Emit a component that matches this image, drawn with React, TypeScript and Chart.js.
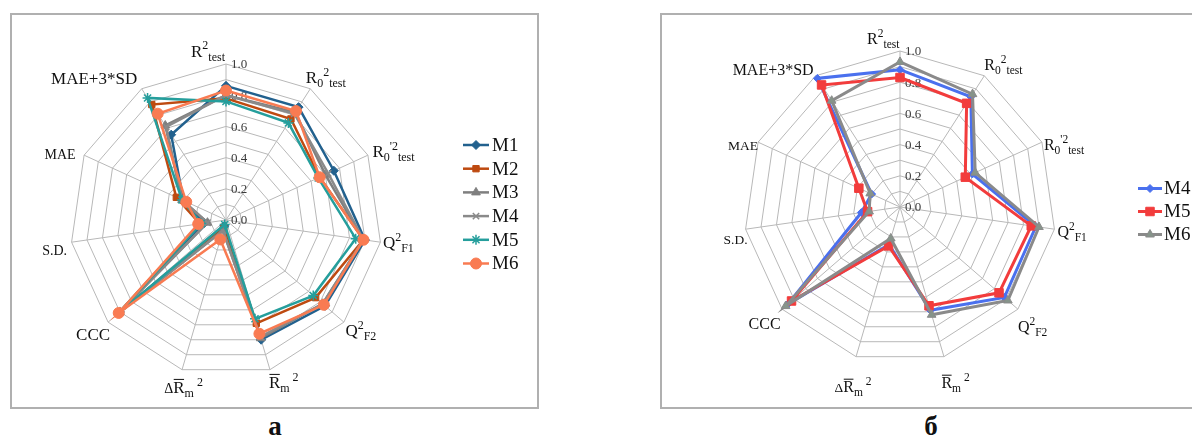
import React, { useEffect, useRef } from 'react';
import { Chart, registerables } from 'chart.js';

Chart.register(...registerables);

// ---------- data ----------
const categories = ["R²test", "R0²test", "R0'²test", "Q²F1", "Q²F2", "R̄m²", "ΔR̄m²", "CCC", "S.D.", "MAE", "MAE+3*SD"];

// rich text parts for the axis labels
const labelParts: [string, string][][] = [
  [["R", "n"], ["2", "sup"], ["test", "sub"]],
  [["R", "n"], ["0", "sub"], ["2", "sup"], ["test", "sub"]],
  [["R", "n"], ["0", "sub"], ["'2", "sup"], ["test", "sub"]],
  [["Q", "n"], ["2", "sup"], ["F1", "sub"]],
  [["Q", "n"], ["2", "sup"], ["F2", "sub"]],
  [["R", "bar"], ["m", "sub"], [" 2", "sup"]],
  [["Δ", "small"], ["R", "bar"], ["m", "sub"], [" 2", "sup"]],
  [["CCC", "n"]],
  [["S.D.", "small"]],
  [["MAE", "small"]],
  [["MAE+3*SD", "n"]],
];

const tickValues = [0, 0.2, 0.4, 0.6, 0.8, 1.0];
const tickLabels = ["0.0", "0.2", "0.4", "0.6", "0.8", "1.0"];

// chart а
const seriesNamesA = ["M1", "M2", "M3", "M4", "M5", "M6"];
const a_M1 = [0.86, 0.86, 0.76, 0.90, 0.84, 0.80, 0.04, 0.90, 0.14, 0.30, 0.65];
const a_M2 = [0.78, 0.77, 0.66, 0.89, 0.76, 0.69, 0.05, 0.91, 0.17, 0.35, 0.88];
const a_M3 = [0.80, 0.82, 0.70, 0.89, 0.82, 0.79, 0.07, 0.90, 0.12, 0.31, 0.72];
const a_M4 = [0.80, 0.81, 0.72, 0.89, 0.82, 0.78, 0.07, 0.90, 0.12, 0.31, 0.71];
const a_M5 = [0.76, 0.74, 0.65, 0.84, 0.74, 0.66, 0.03, 0.91, 0.16, 0.31, 0.93];
const a_M6 = [0.83, 0.83, 0.66, 0.89, 0.83, 0.76, 0.13, 0.91, 0.18, 0.28, 0.81];

// chart б
const seriesNamesB = ["M4", "M5", "M6"];
const b_M4 = [0.88, 0.84, 0.51, 0.88, 0.885, 0.69, 0.25, 0.95, 0.25, 0.20, 0.98];
const b_M5 = [0.83, 0.79, 0.46, 0.85, 0.84, 0.66, 0.26, 0.92, 0.21, 0.29, 0.93];
const b_M6 = [0.93, 0.86, 0.53, 0.90, 0.915, 0.72, 0.21, 0.97, 0.20, 0.21, 0.81];

// ---------- styles ----------
const SERIF = '"Liberation Serif", "Times New Roman", serif';

type Style = { color: string; point: string; radius: number; pbg: string; pbw: number; width: number };

const stylesA: Style[] = [
  { color: '#22618E', point: 'rectRot', radius: 4.5, pbg: '#22618E', pbw: 1, width: 2.5 },
  { color: '#BE4A10', point: 'rect', radius: 4.5, pbg: '#BE4A10', pbw: 1, width: 2.5 },
  { color: '#7F7F7F', point: 'triangle', radius: 5, pbg: '#7F7F7F', pbw: 1, width: 2.5 },
  { color: '#8A8A8A', point: 'crossRot', radius: 4.5, pbg: '#8A8A8A', pbw: 1.5, width: 2.5 },
  { color: '#259E9C', point: 'star', radius: 5, pbg: '#259E9C', pbw: 1.5, width: 2.5 },
  { color: '#F97B52', point: 'circle', radius: 5.5, pbg: '#F97B52', pbw: 1, width: 2.5 },
];

const stylesB: Style[] = [
  { color: '#4A70EE', point: 'rectRot', radius: 4, pbg: '#4A70EE', pbw: 1, width: 3 },
  { color: '#F23C3C', point: 'rect', radius: 6, pbg: '#F23C3C', pbw: 1, width: 3 },
  { color: '#8A8A8A', point: 'triangle', radius: 5, pbg: '#86948A', pbw: 1, width: 3 },
];

type Cfg = {
  names: string[];
  series: number[][];
  styles: Style[];
  padding: { left: number; top: number; right: number; bottom: number };
  offsets: [number, number, string][];
  fontMain: number;
  fontSub: number;
  fontSmall: number;
  tickFont: number;
  legend: { x0: number; x1: number; xt: number; y0: number; dy: number; font: number };
};

const offsetsA: [number, number, string][] = [
  [-1, -7.5, 'right'],
  [-4.5, -5.5, 'left'],
  [4.5, 1.5, 'left'],
  [2.5, 6, 'left'],
  [1.5, 14, 'left'],
  [-1, 18, 'left'],
  [1.5, 23, 'center'],
  [2, 17.5, 'right'],
  [-4.5, 12.5, 'right'],
  [-8.5, 3.5, 'right'],
  [-4.5, -5, 'right'],
];

const offsetsB: [number, number, string][] = [
  [-0.5, -7, 'right'],
  [0, -6, 'left'],
  [2, 8, 'left'],
  [3, 7.5, 'left'],
  [0, 23, 'left'],
  [-2.5, 31, 'left'],
  [-3, 35, 'center'],
  [-1.5, 19.5, 'right'],
  [2, 15, 'right'],
  [0, 8, 'right'],
  [-2, -1, 'right'],
];

function fontFor(kind: string, cfg: Cfg) {
  if (kind === 'sup' || kind === 'sub') return `${cfg.fontSub}px ${SERIF}`;
  if (kind === 'small') return `${cfg.fontSmall}px ${SERIF}`;
  return `${cfg.fontMain}px ${SERIF}`;
}

function drawRichLabel(ctx: CanvasRenderingContext2D, parts: [string, string][], x: number, y: number, align: string, cfg: Cfg) {
  const widths = parts.map(([t, k]) => {
    ctx.font = fontFor(k, cfg);
    return ctx.measureText(t).width;
  });
  const total = widths.reduce((s, w) => s + w, 0);
  let cx = align === 'right' ? x - total : align === 'center' ? x - total / 2 : x;
  ctx.textAlign = 'left';
  ctx.textBaseline = 'alphabetic';
  ctx.fillStyle = '#111';
  parts.forEach(([t, k], i) => {
    ctx.font = fontFor(k, cfg);
    let yy = y;
    if (k === 'sup') yy = y - cfg.fontMain * 0.42;
    if (k === 'sub') yy = y + cfg.fontMain * 0.24;
    ctx.fillText(t, cx, yy);
    if (k === 'bar') {
      ctx.save();
      ctx.strokeStyle = '#111';
      ctx.lineWidth = 1;
      ctx.beginPath();
      const top = y - cfg.fontMain * 0.78;
      ctx.moveTo(cx + 0.5, top);
      ctx.lineTo(cx + widths[i] - 0.5, top);
      ctx.stroke();
      ctx.restore();
    }
    cx += widths[i];
  });
}

function drawMarker(ctx: CanvasRenderingContext2D, st: Style, x: number, y: number) {
  const r = st.radius;
  ctx.save();
  ctx.fillStyle = st.pbg;
  ctx.strokeStyle = st.color;
  ctx.lineWidth = st.pbw;
  ctx.beginPath();
  switch (st.point) {
    case 'rectRot':
      ctx.moveTo(x, y - r); ctx.lineTo(x + r, y); ctx.lineTo(x, y + r); ctx.lineTo(x - r, y); ctx.closePath();
      ctx.fill(); ctx.stroke(); break;
    case 'rect': {
      const s = r * Math.SQRT1_2;
      ctx.rect(x - s, y - s, 2 * s, 2 * s); ctx.fill(); ctx.stroke(); break;
    }
    case 'triangle':
      ctx.moveTo(x, y - r); ctx.lineTo(x + r * 0.87, y + r * 0.5); ctx.lineTo(x - r * 0.87, y + r * 0.5); ctx.closePath();
      ctx.fill(); ctx.stroke(); break;
    case 'crossRot': {
      const s = r * Math.SQRT1_2;
      ctx.moveTo(x - s, y - s); ctx.lineTo(x + s, y + s); ctx.moveTo(x + s, y - s); ctx.lineTo(x - s, y + s); ctx.stroke(); break;
    }
    case 'star': {
      const s = r * Math.SQRT1_2;
      ctx.moveTo(x - s, y - s); ctx.lineTo(x + s, y + s); ctx.moveTo(x + s, y - s); ctx.lineTo(x - s, y + s);
      ctx.moveTo(x, y - r); ctx.lineTo(x, y + r); ctx.moveTo(x - r, y); ctx.lineTo(x + r, y); ctx.stroke(); break;
    }
    default:
      ctx.arc(x, y, r, 0, Math.PI * 2); ctx.fill(); ctx.stroke();
  }
  ctx.restore();
}

function makePlugin(cfg: Cfg) {
  return {
    id: 'excelRadar',
    beforeDatasetsDraw(chart: any) {
      const s = chart.scales.r;
      const ctx: CanvasRenderingContext2D = chart.ctx;
      ctx.save();
      ctx.fillStyle = '#3A3A3A';
      ctx.font = `${cfg.tickFont}px ${SERIF}`;
      ctx.textAlign = 'left';
      ctx.textBaseline = 'middle';
      tickValues.forEach((v, i) => {
        const d = s.getDistanceFromCenterForValue(v);
        ctx.fillText(tickLabels[i], s.xCenter + 5, s.yCenter - d + 1);
      });
      ctx.restore();
    },
    afterDraw(chart: any) {
      const s = chart.scales.r;
      const ctx: CanvasRenderingContext2D = chart.ctx;
      ctx.save();
      categories.forEach((_, i) => {
        const p = s.getPointPosition(i, s.drawingArea);
        const [dx, dy, align] = cfg.offsets[i];
        drawRichLabel(ctx, labelParts[i], p.x + dx, p.y + dy, align, cfg);
      });
      // legend
      const L = cfg.legend;
      cfg.names.forEach((name, i) => {
        const st = cfg.styles[i];
        const y = L.y0 + i * L.dy;
        ctx.save();
        ctx.strokeStyle = st.color;
        ctx.lineWidth = st.width;
        ctx.beginPath();
        ctx.moveTo(L.x0, y);
        ctx.lineTo(L.x1, y);
        ctx.stroke();
        ctx.restore();
        drawMarker(ctx, st, (L.x0 + L.x1) / 2, y);
        ctx.fillStyle = '#111';
        ctx.font = `${L.font}px ${SERIF}`;
        ctx.textAlign = 'left';
        ctx.textBaseline = 'middle';
        ctx.fillText(name, L.xt, y + 1);
      });
      ctx.restore();
    },
  };
}

function RadarCanvas({ width, height, cfg }: { width: number; height: number; cfg: Cfg }) {
  const ref = useRef<HTMLCanvasElement | null>(null);
  useEffect(() => {
    if (!ref.current) return;
    const n = cfg.names.length;
    const chart = new Chart(ref.current, {
      type: 'radar',
      data: {
        labels: categories,
        datasets: cfg.names.map((name, i) => ({
          label: name,
          data: cfg.series[i],
          borderColor: cfg.styles[i].color,
          backgroundColor: cfg.styles[i].pbg,
          borderWidth: cfg.styles[i].width,
          pointStyle: cfg.styles[i].point as any,
          pointRadius: cfg.styles[i].radius,
          pointBackgroundColor: cfg.styles[i].pbg,
          pointBorderColor: cfg.styles[i].color,
          pointBorderWidth: cfg.styles[i].pbw,
          fill: false,
          tension: 0,
          order: n - i,
        })),
      },
      options: {
        responsive: false,
        animation: false,
        events: [],
        layout: { padding: cfg.padding },
        plugins: { legend: { display: false }, tooltip: { enabled: false }, title: { display: false } },
        scales: {
          r: {
            min: 0,
            max: 1,
            ticks: { display: false, stepSize: 0.1 },
            grid: { color: '#B8B8B8', lineWidth: 1 },
            angleLines: { color: '#B8B8B8', lineWidth: 1 },
            pointLabels: { display: false },
          },
        },
      },
      plugins: [makePlugin(cfg)],
    });
    return () => chart.destroy();
  }, [cfg]);
  return <canvas ref={ref} width={width} height={height} style={{ position: 'absolute', left: 0, top: 0, width, height }} />;
}

const cfgA: Cfg = {
  names: seriesNamesA,
  series: [a_M1, a_M2, a_M3, a_M4, a_M5, a_M6],
  styles: stylesA,
  padding: { left: 60, top: 51, right: 157, bottom: 33 },
  offsets: offsetsA,
  fontMain: 17,
  fontSub: 12,
  fontSmall: 14,
  tickFont: 13,
  legend: { x0: 453, x1: 479, xt: 482, y0: 132, dy: 23.7, font: 19 },
};

const cfgB: Cfg = {
  names: seriesNamesB,
  series: [b_M4, b_M5, b_M6],
  styles: stylesB,
  padding: { left: 84, top: 38, right: 136, bottom: 46 },
  offsets: offsetsB,
  fontMain: 16,
  fontSub: 11.5,
  fontSmall: 13.5,
  tickFont: 13,
  legend: { x0: 478, x1: 502, xt: 504, y0: 175.5, dy: 23, font: 19 },
};

export default function App() {
  return (
    <div style={{ position: 'absolute', left: 0, top: 0, width: 1192, height: 439, background: '#fff', overflow: 'hidden' }}>
      <div style={{ position: 'absolute', left: 10, top: 13, width: 529, height: 396, boxSizing: 'border-box', border: '2px solid #B0B0B0' }}>
      </div>
      <div style={{ position: 'absolute', left: 10, top: 13, width: 529, height: 396 }}>
        <RadarCanvas width={529} height={396} cfg={cfgA} />
      </div>
      <div style={{ position: 'absolute', left: 660, top: 13, width: 560, height: 396, boxSizing: 'border-box', border: '2px solid #B0B0B0' }}>
      </div>
      <div style={{ position: 'absolute', left: 660, top: 13, width: 532, height: 396 }}>
        <RadarCanvas width={532} height={396} cfg={cfgB} />
      </div>
      <div style={{ position: 'absolute', left: 255, top: 411, width: 40, textAlign: 'center', font: `bold 27px ${SERIF}`, lineHeight: '30px', color: '#111' }}>а</div>
      <div style={{ position: 'absolute', left: 911, top: 411, width: 40, textAlign: 'center', font: `bold 27px ${SERIF}`, lineHeight: '30px', color: '#111' }}>б</div>
    </div>
  );
}
